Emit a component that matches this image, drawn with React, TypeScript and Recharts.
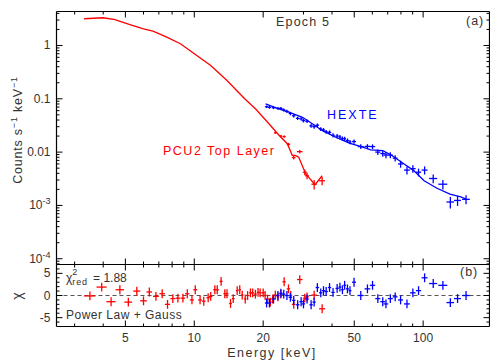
import React from "react";
import {
  ComposedChart,
  Line,
  Scatter,
  ErrorBar,
  XAxis,
  YAxis,
  ReferenceLine,
} from "recharts";

const FONT = "'Liberation Sans', Arial, Helvetica, sans-serif";
const RED = "#ff0000";
const BLUE = "#0000ff";
const INK = "#000000";
const TEXT = "#333333";

// ---- axes ----
const energyDomain = [2.5, 195];
const energyTicks = [3, 4, 5, 6, 7, 8, 9, 10, 20, 30, 40, 50, 60, 70, 80, 90, 100];
const energyLabels = [5, 10, 20, 50, 100];

const countsDomain = [7.8e-5, 4.34];
const countsTicks = [
  8e-5, 9e-5,
  1e-4, 2e-4, 3e-4, 4e-4, 5e-4, 6e-4, 7e-4, 8e-4, 9e-4,
  1e-3, 2e-3, 3e-3, 4e-3, 5e-3, 6e-3, 7e-3, 8e-3, 9e-3,
  0.01, 0.02, 0.03, 0.04, 0.05, 0.06, 0.07, 0.08, 0.09,
  0.1, 0.2, 0.3, 0.4, 0.5, 0.6, 0.7, 0.8, 0.9,
  1, 2, 3, 4,
];
const countsLabelValues = [1, 0.1, 0.01, 1e-3, 1e-4];
const countsLabelText = ["1", "0.1", "0.01", "10^-3", "10^-4"];

const chiDomain = [-7, 7];
const chiTicks = [-6, -5, -4, -3, -2, -1, 0, 1, 2, 3, 4, 5, 6];
const chiLabels = [-5, 0, 5];

// ---- PCU2 (top layer) ----
const pcuModelE = [3.3, 4.0, 4.5, 5.0, 5.4, 6.0, 6.6, 7.5, 8.7, 9.9, 11.8, 13.9, 16.6, 18.5, 21.2, 23.4, 25.5, 26.8, 27.6, 28.6, 30.7, 33.7, 36.2];
const pcuModelFlux = [3.17, 3.31, 3.07, 2.62, 2.37, 2.05, 1.86, 1.47, 1.08, 0.72, 0.42, 0.22, 0.1, 0.065, 0.034, 0.021, 0.0144, 0.0087, 0.0087, 0.008, 0.0039, 0.00245, 0.0036];

const pcuHiE = [22.6, 23.9, 24.7, 25.8, 27.2, 28.9, 30.4, 31.1, 33.4, 36.2];
const pcuHiEErr = [0.3, 0.3, 0.4, 0.45, 0.5, 0.8, 0.6, 0.6, 0.9, 1.1];
const pcuHiFlux = [0.023, 0.02, 0.0196, 0.014, 0.0079, 0.0102, 0.0042, 0.0036, 0.0025, 0.0029];
const pcuHiFluxErr = [0.001, 0.001, 0.001, 0.0009, 0.0006, 0.0008, 0.0005, 0.0005, 0.0005, 0.0005];

const pcuResE = [3.5, 3.94, 4.33, 4.73, 5.15, 5.61, 6.0, 6.36, 6.8, 7.24, 7.64, 8.06, 8.48, 8.92, 9.32, 9.77, 10.1, 10.6, 11.0, 11.5, 11.8, 12.3, 12.6, 13.1, 13.6, 13.9, 14.4, 14.8, 15.4, 15.8, 16.2, 16.7, 17.1, 17.6, 18.0, 18.5, 19.0, 19.4, 20.0, 20.4, 20.9, 21.5, 22.0, 22.6, 23.2, 23.9, 24.7, 25.8, 26.4, 27.2, 28.9, 30.4, 31.1, 33.4, 36.2];
const pcuResEErr = [0.2, 0.2, 0.2, 0.2, 0.2, 0.2, 0.2, 0.18, 0.2, 0.2, 0.2, 0.2, 0.2, 0.2, 0.2, 0.2, 0.2, 0.2, 0.2, 0.2, 0.2, 0.2, 0.2, 0.2, 0.2, 0.2, 0.2, 0.2, 0.2, 0.2, 0.2, 0.2, 0.2, 0.25, 0.25, 0.25, 0.25, 0.25, 0.3, 0.3, 0.3, 0.3, 0.3, 0.3, 0.3, 0.3, 0.4, 0.45, 0.4, 0.5, 0.8, 0.6, 0.6, 0.9, 1.1];
const pcuChi = [-0.1, 1.9, -1.4, 1.3, -1.5, 1.0, -1.2, 0.8, -0.2, 0.4, -2.0, -0.7, -0.6, -0.6, 0.4, -1.0, 1.3, -1.0, -1.3, -0.5, -0.2, 1.3, 1.3, 3.2, 0.4, 0.4, -1.8, -0.7, 1.1, 1.3, 0.1, -0.8, 0.0, 0.6, 0.6, 0.3, 0.7, 0.6, 0.6, 0.0, -0.8, -1.5, -0.8, 0.1, -0.3, 0.3, 3.1, 1.5, 0.0, -2.0, 3.6, -0.6, -0.3, 0.1, -3.0];

// ---- HEXTE ----
const hexteModelE = [20.5, 23.4, 25.9, 29.7, 32.8, 36.2, 41.5, 47.6, 54.5, 59, 66.6, 72.2, 82.6, 91, 101, 115, 131, 146, 154];
const hexteModelFlux = [0.08, 0.065, 0.056, 0.045, 0.034, 0.0255, 0.019, 0.0147, 0.0124, 0.011, 0.0107, 0.0089, 0.006, 0.0045, 0.0029, 0.0021, 0.00163, 0.00144, 0.00132];

const hexteE = [20.7, 21.3, 22.2, 23.2, 23.9, 24.6, 25.4, 26.3, 27.2, 28.3, 29.3, 30.0, 31.1, 32.4, 33.4, 34.5, 35.7, 36.7, 37.7, 39.0, 40.4, 42.1, 43.3, 44.4, 45.4, 46.7, 47.9, 49.9, 53.4, 57.1, 60.1, 63.4, 66.6, 68.8, 71.9, 75.5, 79.7, 85, 90.2, 95.5, 101.5, 110.7, 122, 131.5, 141.4, 154];
const hexteEErr = [0.35, 0.35, 0.4, 0.4, 0.4, 0.4, 0.45, 0.45, 0.45, 0.5, 0.5, 0.5, 0.55, 0.55, 0.55, 0.6, 0.6, 0.6, 0.65, 0.65, 0.7, 0.7, 0.6, 0.6, 0.6, 0.7, 0.7, 1.0, 1.6, 1.6, 1.6, 1.6, 1.6, 1.6, 1.8, 1.8, 2.0, 2.5, 2.5, 2.5, 3.0, 4.5, 5.5, 5.0, 5.0, 6.0];
const hexteFlux = [0.071, 0.069, 0.068, 0.066, 0.066, 0.062, 0.058, 0.053, 0.048, 0.043, 0.042, 0.039, 0.038, 0.031, 0.03, 0.032, 0.027, 0.026, 0.024, 0.0235, 0.0207, 0.02, 0.0192, 0.018, 0.0178, 0.0165, 0.0155, 0.0158, 0.0127, 0.0128, 0.0127, 0.01, 0.0094, 0.0088, 0.0088, 0.0077, 0.006, 0.0046, 0.0049, 0.0042, 0.0046, 0.0032, 0.0025, 0.00116, 0.00124, 0.0013];
const hexteFluxErr = [0.004, 0.004, 0.004, 0.004, 0.004, 0.004, 0.004, 0.004, 0.0035, 0.003, 0.003, 0.003, 0.003, 0.0025, 0.0025, 0.0025, 0.0022, 0.0022, 0.002, 0.002, 0.0018, 0.0018, 0.0017, 0.0016, 0.0016, 0.0015, 0.0014, 0.0014, 0.0013, 0.0013, 0.0013, 0.0012, 0.0012, 0.0011, 0.0011, 0.001, 0.0009, 0.0008, 0.0008, 0.0007, 0.0008, 0.0006, 0.0005, 0.00028, 0.00026, 0.00025];
const hexteChi = [-1.7, -1.7, -0.8, 0.0, 0.5, 0.3, 0.0, -0.4, -1.1, -2.1, -1.4, -1.9, -0.8, -2.1, -1.5, 1.8, 0.6, 1.1, 0.9, 1.8, 0.7, 1.6, 1.9, 1.3, 2.3, 1.5, 1.1, 3.0, 0.0, 1.5, 2.3, -0.7, -1.4, -1.9, -0.7, -0.3, -1.0, -1.9, 0.6, 1.1, 4.0, 2.7, 2.3, -1.6, -0.7, 0.0];

// residuals are in units of sigma
const CHI_ERR = 1;

const pcuModel = pcuModelE.map((e, i) => ({ e, v: pcuModelFlux[i] }));
const hexteModel = hexteModelE.map((e, i) => ({ e, v: hexteModelFlux[i] }));
const pcuHi = pcuHiE.map((e, i) => ({ e, v: pcuHiFlux[i], ex: pcuHiEErr[i], ey: pcuHiFluxErr[i] }));
const hexteData = hexteE.map((e, i) => ({ e, v: hexteFlux[i], ex: hexteEErr[i], ey: hexteFluxErr[i] }));
const pcuRes = pcuResE.map((e, i) => ({ e, v: pcuChi[i], ex: pcuResEErr[i], ey: CHI_ERR }));
const hexteRes = hexteE.map((e, i) => ({ e, v: hexteChi[i], ex: hexteEErr[i], ey: CHI_ERR }));

const W = 490;
const H = 362;
const LEFT = 56.5;
const RIGHT = 0.5;
const TOP = 11.5;
const MID = 264.5;
const BOTTOM = 326.5;
// axes need a non-zero box to be drawn; margins are reduced by this amount
const AX = 1;

const axisLine = { stroke: INK, strokeWidth: 1.2 };
const noShape = () => <g />;

function energyTick(dir: 1 | -1, withLabel: boolean) {
  return (p: any) => {
    const x = Number(p.x);
    const y = Number(p.y);
    const v = p.payload?.value;
    const major = energyLabels.includes(v);
    const len = major ? 6 : 3;
    return (
      <g>
        <line x1={x} x2={x} y1={y} y2={y + dir * len} stroke={INK} strokeWidth={1} />
        {withLabel && major ? (
          <text x={x} y={y + 15} textAnchor="middle" fill={TEXT} fontSize={12} fontFamily={FONT}>
            {v}
          </text>
        ) : null}
      </g>
    );
  };
}

function countsTick(side: "left" | "right") {
  return (p: any) => {
    const x = Number(p.x);
    const y = Number(p.y);
    const v = p.payload?.value;
    const lg = Math.log10(v);
    const major = Math.abs(lg - Math.round(lg)) < 1e-6;
    const len = major ? 6 : 3;
    const idx = countsLabelValues.findIndex((c) => Math.abs(c - v) / c < 1e-6);
    let label: React.ReactNode = null;
    if (side === "left" && idx >= 0) {
      const [base, exp] = countsLabelText[idx].split("^");
      label = (
        <text x={x - 6} y={y + 4} textAnchor="end" fill={TEXT} fontSize={12} fontFamily={FONT}>
          {base}
          {exp ? (
            <tspan dy={-5} fontSize={9}>
              {exp}
            </tspan>
          ) : null}
        </text>
      );
    }
    return (
      <g>
        <line x1={x} x2={side === "left" ? x + len : x - len} y1={y} y2={y} stroke={INK} strokeWidth={1} />
        {label}
      </g>
    );
  };
}

function chiTick(side: "left" | "right") {
  return (p: any) => {
    const x = Number(p.x);
    const y = Number(p.y);
    const v = p.payload?.value;
    const major = chiLabels.includes(v);
    const len = major ? 6 : 3;
    return (
      <g>
        <line x1={x} x2={side === "left" ? x + len : x - len} y1={y} y2={y} stroke={INK} strokeWidth={1} />
        {side === "left" && major ? (
          <text x={x - 6} y={y + 4} textAnchor="end" fill={TEXT} fontSize={12} fontFamily={FONT}>
            {v}
          </text>
        ) : null}
      </g>
    );
  };
}

function SpectrumPanel() {
  return (
    <ComposedChart
      width={W}
      height={H}
      margin={{ top: TOP - AX, right: RIGHT - AX, bottom: H - MID - AX, left: LEFT - AX }}
      style={{ position: "absolute", left: 0, top: 0 }}
    >
      <XAxis xAxisId="b" dataKey="e" type="number" scale="log" domain={energyDomain} allowDataOverflow
        ticks={energyTicks} interval={0} height={AX} tickSize={0} tickMargin={0} tickLine={false}
        axisLine={axisLine} tick={energyTick(-1, false)} />
      <XAxis xAxisId="t" orientation="top" dataKey="e" type="number" scale="log" domain={energyDomain} allowDataOverflow
        ticks={energyTicks} interval={0} height={AX} tickSize={0} tickMargin={0} tickLine={false}
        axisLine={axisLine} tick={energyTick(1, false)} />
      <YAxis yAxisId="l" dataKey="v" type="number" scale="log" domain={countsDomain} allowDataOverflow
        ticks={countsTicks} interval={0} width={AX} tickSize={0} tickMargin={0} tickLine={false}
        axisLine={axisLine} tick={countsTick("left")} />
      <YAxis yAxisId="r" orientation="right" dataKey="v" type="number" scale="log" domain={countsDomain} allowDataOverflow
        ticks={countsTicks} interval={0} width={AX} tickSize={0} tickMargin={0} tickLine={false}
        axisLine={axisLine} tick={countsTick("right")} />
      <Line xAxisId="b" yAxisId="l" data={pcuModel} dataKey="v" type="linear" stroke={RED} strokeWidth={1.3}
        dot={false} isAnimationActive={false} />
      <Line xAxisId="b" yAxisId="l" data={hexteModel} dataKey="v" type="linear" stroke={BLUE} strokeWidth={1.3}
        dot={false} isAnimationActive={false} />
      <Scatter xAxisId="b" yAxisId="l" data={pcuHi} dataKey="v" shape={noShape} isAnimationActive={false}>
        <ErrorBar dataKey="ex" direction="x" width={0} stroke={RED} strokeWidth={1.3} isAnimationActive={false} />
        <ErrorBar dataKey="ey" direction="y" width={0} stroke={RED} strokeWidth={1.3} isAnimationActive={false} />
      </Scatter>
      <Scatter xAxisId="b" yAxisId="l" data={hexteData} dataKey="v" shape={noShape} isAnimationActive={false}>
        <ErrorBar dataKey="ex" direction="x" width={0} stroke={BLUE} strokeWidth={1.3} isAnimationActive={false} />
        <ErrorBar dataKey="ey" direction="y" width={0} stroke={BLUE} strokeWidth={1.3} isAnimationActive={false} />
      </Scatter>
    </ComposedChart>
  );
}

function ResidualPanel() {
  return (
    <ComposedChart
      width={W}
      height={H}
      margin={{ top: MID - AX, right: RIGHT - AX, bottom: H - BOTTOM - AX, left: LEFT - AX }}
      style={{ position: "absolute", left: 0, top: 0 }}
    >
      <XAxis xAxisId="b" dataKey="e" type="number" scale="log" domain={energyDomain} allowDataOverflow
        ticks={energyTicks} interval={0} height={AX} tickSize={0} tickMargin={0} tickLine={false}
        axisLine={axisLine} tick={energyTick(-1, true)} />
      <XAxis xAxisId="t" orientation="top" dataKey="e" type="number" scale="log" domain={energyDomain} allowDataOverflow
        ticks={energyTicks} interval={0} height={AX} tickSize={0} tickMargin={0} tickLine={false}
        axisLine={axisLine} tick={energyTick(1, false)} />
      <YAxis yAxisId="l" dataKey="v" type="number" domain={chiDomain} allowDataOverflow
        ticks={chiTicks} interval={0} width={AX} tickSize={0} tickMargin={0} tickLine={false}
        axisLine={axisLine} tick={chiTick("left")} />
      <YAxis yAxisId="r" orientation="right" dataKey="v" type="number" domain={chiDomain} allowDataOverflow
        ticks={chiTicks} interval={0} width={AX} tickSize={0} tickMargin={0} tickLine={false}
        axisLine={axisLine} tick={chiTick("right")} />
      <ReferenceLine xAxisId="b" yAxisId="l" y={0} stroke="#555" strokeWidth={1} strokeDasharray="4 3" />
      <Scatter xAxisId="b" yAxisId="l" data={pcuRes} dataKey="v" shape={noShape} isAnimationActive={false}>
        <ErrorBar dataKey="ex" direction="x" width={0} stroke={RED} strokeWidth={1.3} isAnimationActive={false} />
        <ErrorBar dataKey="ey" direction="y" width={0} stroke={RED} strokeWidth={1.3} isAnimationActive={false} />
      </Scatter>
      <Scatter xAxisId="b" yAxisId="l" data={hexteRes} dataKey="v" shape={noShape} isAnimationActive={false}>
        <ErrorBar dataKey="ex" direction="x" width={0} stroke={BLUE} strokeWidth={1.3} isAnimationActive={false} />
        <ErrorBar dataKey="ey" direction="y" width={0} stroke={BLUE} strokeWidth={1.3} isAnimationActive={false} />
      </Scatter>
    </ComposedChart>
  );
}

function Annotations() {
  const t = { fontFamily: FONT, fill: TEXT, fontSize: 12.5 };
  return (
    <svg width={W} height={H} style={{ position: "absolute", left: 0, top: 0, pointerEvents: "none" }}>
      <text {...t} x={276} y={26} letterSpacing={1.2}>Epoch 5</text>
      <text {...t} x={466} y={25} letterSpacing={1}>(a)</text>
      <text {...t} x={460} y={276} letterSpacing={1}>(b)</text>
      <text {...t} x={327} y={119} fill={BLUE} letterSpacing={2}>HEXTE</text>
      <text {...t} x={163} y={155} fill={RED} letterSpacing={1.5}>PCU2 Top Layer</text>
      <text {...t} x={66} y={282} fontSize={12}>
        χ<tspan dy={-7} fontSize={9}>2</tspan>
        <tspan dx={-5} dy={10} fontSize={9} letterSpacing={0.8}>red</tspan>
        <tspan dy={-3} dx={2}> = 1.88</tspan>
      </text>
      <text {...t} x={66} y={319} fontSize={12} letterSpacing={0.5}>Power Law + Gauss</text>
      <text {...t} x={272} y={357} textAnchor="middle" letterSpacing={1.5}>Energy [keV]</text>
      <text {...t} transform="translate(22,130) rotate(-90)" textAnchor="middle" letterSpacing={0.8}>
        Counts s<tspan dy={-5} fontSize={9}>−1</tspan>
        <tspan dy={5}> keV</tspan>
        <tspan dy={-5} fontSize={9}>−1</tspan>
      </text>
      <text {...t} transform="translate(22,296) rotate(-90)" textAnchor="middle" fontSize={14}>χ</text>
    </svg>
  );
}

export default function App() {
  return (
    <div style={{ position: "absolute", left: 0, top: 0, width: W, height: H, background: "#fff", overflow: "hidden" }}>
      <SpectrumPanel />
      <ResidualPanel />
      <Annotations />
    </div>
  );
}
